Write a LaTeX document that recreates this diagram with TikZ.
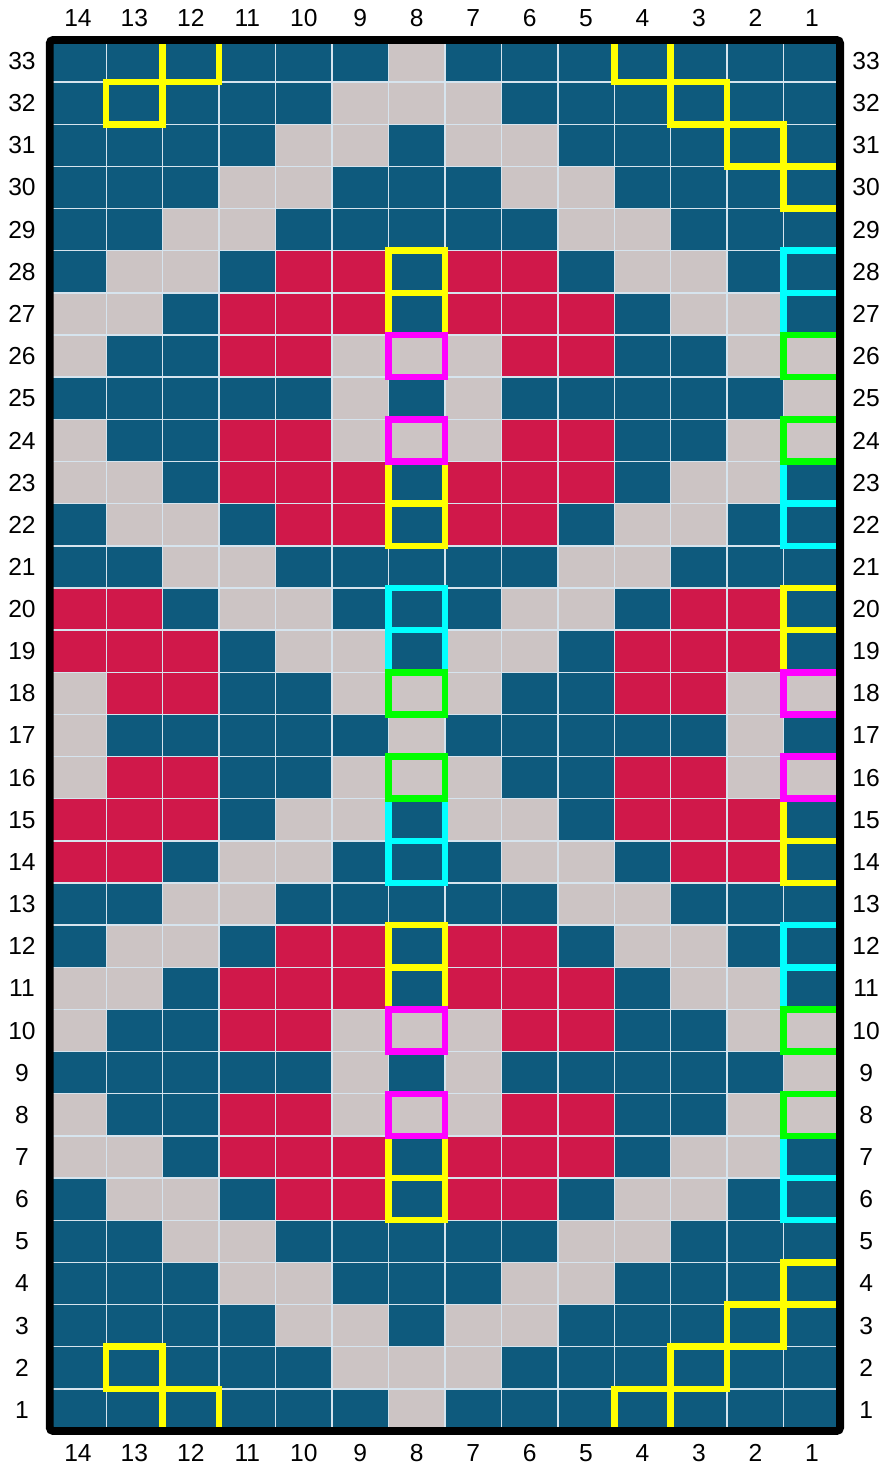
\documentclass[tikz,border=0pt]{standalone}
\usepackage{fontspec}
\setmainfont{Liberation Sans}
\definecolor{cb}{HTML}{0E5A7D}
\definecolor{cg}{HTML}{CCC4C4}
\definecolor{cr}{HTML}{D0184A}
\definecolor{gridline}{HTML}{D6E4EE}
\definecolor{hlyellow}{HTML}{FFFF00}
\definecolor{hlcyan}{HTML}{00FFFF}
\definecolor{hlmagenta}{HTML}{FF00FF}
\definecolor{hlgreen}{HTML}{00FF00}
\tikzset{
  num/.style={font=\fontsize{14}{14}\selectfont, inner sep=0pt},
  hlbox/.style={draw=#1, line width=3.7pt}
}
\begin{document}
\begin{tikzpicture}[x=1.129cm, y=0.843cm]
        \useasboundingbox ([xshift=-0.995cm,yshift=-0.68cm]0,0) rectangle ([xshift=0.86cm,yshift=0.8cm]14,33);
        %righe del motivo (da colonna 14 a colonna 1)
        \foreach \r in {1,33} \foreach \c [count=\i] in {cb,cb,cb,cb,cb,cb,cg,cb,cb,cb,cb,cb,cb,cb}
        \fill[\c] (\i-1,\r-1) rectangle++ (1,1);
        \foreach \r in {2,32} \foreach \c [count=\i] in {cb,cb,cb,cb,cb,cg,cg,cg,cb,cb,cb,cb,cb,cb}
        \fill[\c] (\i-1,\r-1) rectangle++ (1,1);
        \foreach \r in {3,31} \foreach \c [count=\i] in {cb,cb,cb,cb,cg,cg,cb,cg,cg,cb,cb,cb,cb,cb}
        \fill[\c] (\i-1,\r-1) rectangle++ (1,1);
        \foreach \r in {4,30} \foreach \c [count=\i] in {cb,cb,cb,cg,cg,cb,cb,cb,cg,cg,cb,cb,cb,cb}
        \fill[\c] (\i-1,\r-1) rectangle++ (1,1);
        \foreach \r in {5,13,21,29} \foreach \c [count=\i] in {cb,cb,cg,cg,cb,cb,cb,cb,cb,cg,cg,cb,cb,cb}
        \fill[\c] (\i-1,\r-1) rectangle++ (1,1);
        \foreach \r in {6,12,22,28} \foreach \c [count=\i] in {cb,cg,cg,cb,cr,cr,cb,cr,cr,cb,cg,cg,cb,cb}
        \fill[\c] (\i-1,\r-1) rectangle++ (1,1);
        \foreach \r in {7,11,23,27} \foreach \c [count=\i] in {cg,cg,cb,cr,cr,cr,cb,cr,cr,cr,cb,cg,cg,cb}
        \fill[\c] (\i-1,\r-1) rectangle++ (1,1);
        \foreach \r in {8,10,24,26} \foreach \c [count=\i] in {cg,cb,cb,cr,cr,cg,cg,cg,cr,cr,cb,cb,cg,cg}
        \fill[\c] (\i-1,\r-1) rectangle++ (1,1);
        \foreach \r in {9,25} \foreach \c [count=\i] in {cb,cb,cb,cb,cb,cg,cb,cg,cb,cb,cb,cb,cb,cg}
        \fill[\c] (\i-1,\r-1) rectangle++ (1,1);
        \foreach \r in {14,20} \foreach \c [count=\i] in {cr,cr,cb,cg,cg,cb,cb,cb,cg,cg,cb,cr,cr,cb}
        \fill[\c] (\i-1,\r-1) rectangle++ (1,1);
        \foreach \r in {15,19} \foreach \c [count=\i] in {cr,cr,cr,cb,cg,cg,cb,cg,cg,cb,cr,cr,cr,cb}
        \fill[\c] (\i-1,\r-1) rectangle++ (1,1);
        \foreach \r in {16,18} \foreach \c [count=\i] in {cg,cr,cr,cb,cb,cg,cg,cg,cb,cb,cr,cr,cg,cg}
        \fill[\c] (\i-1,\r-1) rectangle++ (1,1);
        \foreach \r in {17} \foreach \c [count=\i] in {cg,cb,cb,cb,cb,cb,cg,cb,cb,cb,cb,cb,cg,cb}
        \fill[\c] (\i-1,\r-1) rectangle++ (1,1);
        %griglia
        \draw[gridline, line width=0.8pt, step=1] (0,0) grid (14,33);
        %riquadri gialli
        \foreach \r in {6,7,11,12,22,23,27,28} \draw[hlbox=hlyellow] (6,\r-1) rectangle++ (1,1);
        \foreach \r in {14,15,19,20} \draw[hlbox=hlyellow] (13,\r-1) rectangle++ (1,1);
        \foreach \x/\y in {2/32,1/31,10/32,11/31,12/30,13/29,1/1,2/0,10/0,11/1,12/2,13/3}
        \draw[hlbox=hlyellow] (\x,\y) rectangle++ (1,1);
        %riquadri azzurri
        \foreach \r in {6,7,11,12,22,23,27,28} \draw[hlbox=hlcyan] (13,\r-1) rectangle++ (1,1);
        \foreach \r in {14,15,19,20} \draw[hlbox=hlcyan] (6,\r-1) rectangle++ (1,1);
        %riquadri magenta e verdi
        \foreach \r in {8,10,24,26} \draw[hlbox=hlmagenta] (6,\r-1) rectangle++ (1,1);
        \foreach \r in {16,18} \draw[hlbox=hlmagenta] (13,\r-1) rectangle++ (1,1);
        \foreach \r in {8,10,24,26} \draw[hlbox=hlgreen] (13,\r-1) rectangle++ (1,1);
        \foreach \r in {16,18} \draw[hlbox=hlgreen] (6,\r-1) rectangle++ (1,1);
        %cornice
        \draw[line width=4.5pt, rounded corners=2pt] (0,0) rectangle (14,33);
        %numeri di colonna e di riga
        \foreach \n in {1,...,14} {
        \node[num, yshift=0.44cm] (top\n) at (14.5-\n,33) {\n};
        \node[num, yshift=-0.44cm] (bot\n) at (14.5-\n,0) {\n};}
        \foreach \r in {1,...,33} {
        \node[num, xshift=-0.555cm] (left\r) at (0,\r-0.5) {\r};
        \node[num, xshift=0.52cm] (right\r) at (14,\r-0.5) {\r};}
    \end{tikzpicture}
\end{document}
